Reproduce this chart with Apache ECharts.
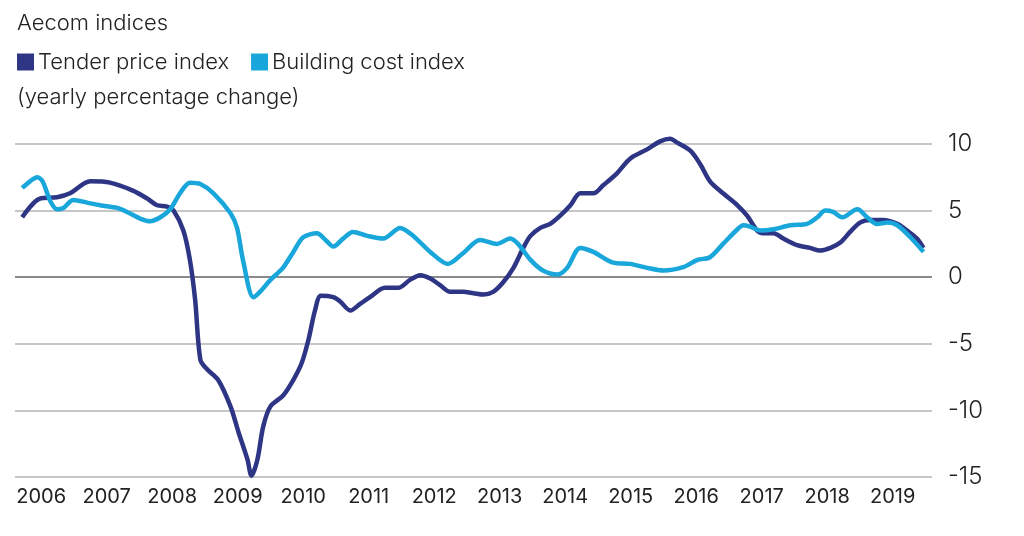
<!DOCTYPE html>
<html>
<head>
<meta charset="utf-8">
<script src="https://cdn.jsdelivr.net/npm/echarts@6/dist/echarts.min.js"></script>
<style>html,body{margin:0;padding:0;background:#fff}#c{width:1024px;height:536px}</style>
</head>
<body>
<div id="c"></div>
<script>
const yearLabels = [2006,2007,2008,2009,2010,2011,2012,2013,2014,2015,2016,2017,2018,2019];
const yTicks = [-15,-10,-5,0,5,10];
const tenderPrice = [[2005.71,4.5],[2005.98,5.9],[2006.24,6.0],[2006.44,6.3],[2006.75,7.2],[2007.05,7.1],[2007.40,6.5],[2007.62,5.9],[2007.77,5.4],[2007.92,5.3],[2008.02,5.0],[2008.17,3.5],[2008.27,1.3],[2008.35,-1.7],[2008.43,-6.2],[2008.53,-6.9],[2008.70,-7.7],[2008.89,-9.7],[2009.01,-11.6],[2009.15,-13.7],[2009.21,-14.9],[2009.30,-13.7],[2009.39,-11.2],[2009.50,-9.7],[2009.69,-8.9],[2009.85,-7.7],[2009.98,-6.4],[2010.08,-4.7],[2010.18,-2.5],[2010.27,-1.4],[2010.46,-1.5],[2010.56,-1.8],[2010.72,-2.5],[2010.87,-2.0],[2011.02,-1.5],[2011.25,-0.8],[2011.45,-0.8],[2011.63,-0.2],[2011.79,0.15],[2011.94,-0.1],[2012.09,-0.6],[2012.24,-1.1],[2012.44,-1.1],[2012.60,-1.2],[2012.75,-1.3],[2012.90,-1.1],[2013.05,-0.4],[2013.21,0.7],[2013.36,2.2],[2013.47,3.1],[2013.62,3.7],[2013.77,4.0],[2013.92,4.6],[2014.08,5.4],[2014.23,6.3],[2014.43,6.3],[2014.58,6.9],[2014.79,7.8],[2014.99,8.9],[2015.25,9.6],[2015.45,10.2],[2015.60,10.4],[2015.71,10.1],[2015.91,9.5],[2016.06,8.5],[2016.21,7.2],[2016.41,6.3],[2016.63,5.4],[2016.78,4.6],[2016.93,3.5],[2017.02,3.3],[2017.18,3.3],[2017.33,2.9],[2017.54,2.4],[2017.74,2.2],[2017.89,2.0],[2018.05,2.2],[2018.20,2.6],[2018.35,3.4],[2018.50,4.1],[2018.66,4.3],[2018.85,4.3],[2019.07,4.0],[2019.22,3.5],[2019.37,2.9],[2019.47,2.2]];
const buildingCost = [[2005.71,6.7],[2005.83,7.2],[2005.94,7.5],[2006.02,7.2],[2006.14,5.7],[2006.24,5.1],[2006.34,5.2],[2006.49,5.8],[2006.70,5.6],[2006.90,5.4],[2007.16,5.2],[2007.31,4.9],[2007.51,4.4],[2007.66,4.2],[2007.82,4.5],[2007.97,5.1],[2008.12,6.3],[2008.27,7.1],[2008.43,7.0],[2008.63,6.3],[2008.89,4.8],[2008.99,3.7],[2009.08,1.3],[2009.24,-1.5],[2009.34,-1.1],[2009.50,-0.2],[2009.69,0.7],[2009.85,1.9],[2010.00,3.0],[2010.21,3.3],[2010.34,2.8],[2010.46,2.3],[2010.61,2.9],[2010.76,3.4],[2010.98,3.1],[2011.22,2.9],[2011.48,3.7],[2011.68,3.1],[2011.94,1.9],[2012.21,1.0],[2012.44,1.8],[2012.70,2.8],[2012.96,2.5],[2013.16,2.9],[2013.28,2.5],[2013.47,1.3],[2013.66,0.5],[2013.88,0.2],[2014.03,0.7],[2014.23,2.2],[2014.43,1.9],[2014.73,1.1],[2014.99,1.0],[2015.25,0.7],[2015.50,0.5],[2015.80,0.75],[2016.02,1.3],[2016.21,1.5],[2016.41,2.5],[2016.63,3.6],[2016.72,3.9],[2016.82,3.8],[2016.98,3.5],[2017.18,3.6],[2017.44,3.9],[2017.69,4.0],[2017.85,4.5],[2017.97,5.0],[2018.09,4.9],[2018.23,4.5],[2018.46,5.1],[2018.61,4.5],[2018.76,4.0],[2018.92,4.1],[2019.07,3.9],[2019.27,3.0],[2019.47,1.9]];

const FONT = 'Inter';
const chart = echarts.init(document.getElementById('c'), null, {renderer:'canvas'});
chart.setOption({
  animation: false,
  backgroundColor: '#fff',
  textStyle: {fontFamily: FONT},
  title: [
    {text: 'Aecom indices', left: 12, top: 7, textStyle: {fontFamily: FONT, fontSize: 22, fontWeight: 300, color: '#222'}},
    {text: '(yearly percentage change)', left: 12, top: 81, textStyle: {fontFamily: FONT, fontSize: 22, fontWeight: 300, color: '#222'}}
  ],
  legend: {
    left: 12, top: 46, icon: 'rect', itemWidth: 17, itemHeight: 17, itemGap: 22,
    textStyle: {fontFamily: FONT, fontSize: 22, fontWeight: 300, color: '#222', padding: [0,0,0,-1]},
    data: ['Tender price index', 'Building cost index']
  },
  grid: {left: 15, right: 92, top: 144, bottom: 59, containLabel: false},
  xAxis: {
    type: 'value', min: 2005.6, max: 2019.6,
    axisLine: {show: false}, axisTick: {show: false}, splitLine: {show: false},
    axisLabel: {customValues: yearLabels, formatter: v => String(Math.round(v)), fontFamily: FONT, fontSize: 20, color: '#222', margin: 10}
  },
  yAxis: {
    type: 'value', position: 'right', min: -15, max: 10, interval: 5,
    axisLine: {show: false}, axisTick: {show: false},
    splitLine: {lineStyle: {color: '#c6c6c6', width: 2}},
    axisLabel: {fontFamily: FONT, fontSize: 24, fontWeight: 300, color: '#222', margin: 16, align: 'left'}
  },
  series: [
    {
      name: 'Building cost index', type: 'line', data: buildingCost, smooth: 0.3, showSymbol: false, clip: false,
      lineStyle: {color: '#19a6db', width: 4.5}, itemStyle: {color: '#19a6db'}, z: 3,
      markLine: {silent: true, symbol: 'none', label: {show: false}, lineStyle: {color: '#8a8a8a', width: 2, type: 'solid'}, data: [{yAxis: 0}], z: 1}
    },
    {
      name: 'Tender price index', type: 'line', data: tenderPrice, smooth: 0.3, showSymbol: false, clip: false,
      lineStyle: {color: '#2e3584', width: 4.5}, itemStyle: {color: '#2e3584'}, z: 2
    }
  ]
});
</script>
</body>
</html>
